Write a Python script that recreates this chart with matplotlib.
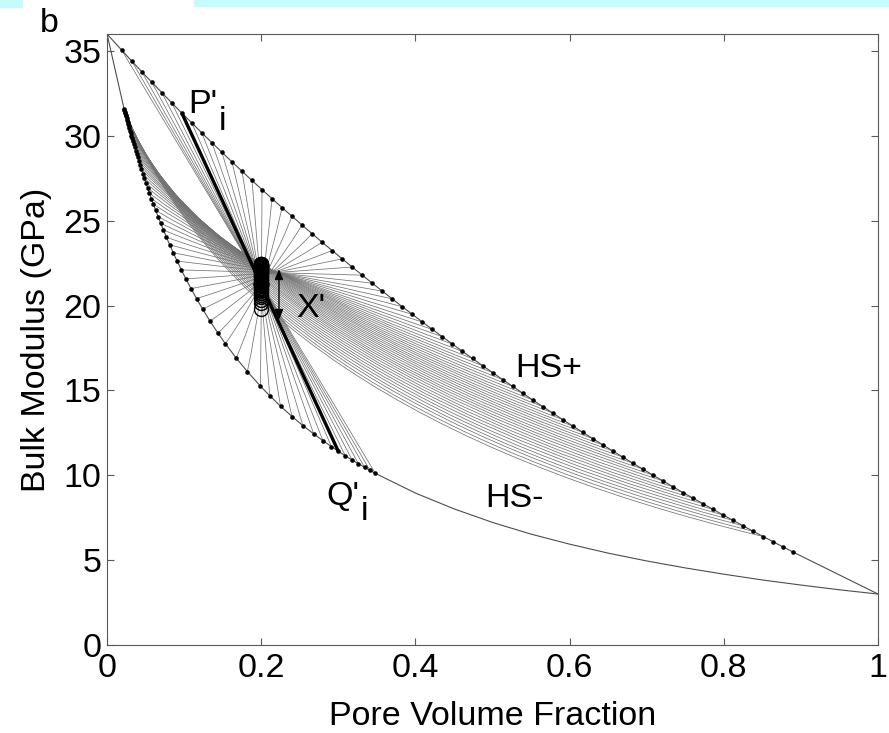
import numpy as np
import matplotlib
matplotlib.use("Agg")
import matplotlib.pyplot as plt
from matplotlib.patches import Rectangle, PathPatch
from matplotlib.path import Path

plt.rcParams["font.family"] = ["Liberation Sans", "DejaVu Sans"]

# --- values -----------------------------------------------------------------------------
# HS+ bound, with the marked points P' on it
up_x = [0.019, 0.032, 0.045, 0.058, 0.071, 0.084, 0.097, 0.110, 0.123, 0.136, 0.149, 0.162,
        0.175, 0.188, 0.201, 0.214, 0.227, 0.240, 0.253, 0.266, 0.279, 0.292, 0.305, 0.318,
        0.331, 0.344, 0.357, 0.370, 0.383, 0.396, 0.409, 0.422, 0.435, 0.448, 0.461, 0.474,
        0.487, 0.500, 0.513, 0.526, 0.539, 0.552, 0.565, 0.578, 0.591, 0.604, 0.617, 0.630,
        0.643, 0.656, 0.669, 0.682, 0.695, 0.708, 0.721, 0.734, 0.747, 0.760, 0.773, 0.786,
        0.799, 0.812, 0.825, 0.838, 0.851, 0.864, 0.877, 0.890]
up_y = [35.05, 34.41, 33.78, 33.16, 32.55, 31.94, 31.34, 30.76, 30.17, 29.60, 29.03, 28.47,
        27.92, 27.37, 26.83, 26.30, 25.77, 25.26, 24.74, 24.23, 23.73, 23.24, 22.75, 22.27,
        21.79, 21.32, 20.85, 20.39, 19.93, 19.48, 19.03, 18.59, 18.16, 17.73, 17.30, 16.88,
        16.46, 16.05, 15.64, 15.24, 14.84, 14.44, 14.05, 13.67, 13.28, 12.90, 12.53, 12.16,
        11.79, 11.43, 11.07, 10.71, 10.36, 10.01, 9.67, 9.32, 8.98, 8.65, 8.32, 7.99,
        7.66, 7.34, 7.02, 6.70, 6.39, 6.08, 5.77, 5.47]

# HS- bound points Q' (i-th one is linked to the i-th P'), then the plain tail of HS-
lo_x = [0.348, 0.341, 0.334, 0.326, 0.318, 0.309, 0.300, 0.291, 0.280, 0.268, 0.254, 0.240,
        0.225, 0.211, 0.199, 0.182, 0.1675, 0.1535, 0.144, 0.1336, 0.124, 0.1161, 0.1089,
        0.1023, 0.0964, 0.0909, 0.0859, 0.0813, 0.0771, 0.0732, 0.0696, 0.0662, 0.0631,
        0.0602, 0.0575, 0.0550, 0.0526, 0.0504, 0.0484, 0.0465, 0.0446, 0.0430, 0.0414,
        0.0398, 0.0384, 0.0371, 0.0359, 0.0347, 0.0336, 0.0325, 0.0315, 0.0306, 0.0297,
        0.0288, 0.0280, 0.0273, 0.0266, 0.0259, 0.0253, 0.0247, 0.0241, 0.0235, 0.0230,
        0.0225, 0.0221]
lo_y = [10.11, 10.29, 10.47, 10.68, 10.89, 11.15, 11.41, 11.69, 12.04, 12.44, 12.93, 13.46,
        14.07, 14.69, 15.25, 16.11, 16.91, 17.75, 18.37, 19.08, 19.79, 20.41, 21.00, 21.57,
        22.10, 22.62, 23.11, 23.58, 24.02, 24.45, 24.85, 25.24, 25.61, 25.97, 26.30, 26.62,
        26.94, 27.23, 27.50, 27.76, 28.03, 28.26, 28.49, 28.73, 28.94, 29.13, 29.32, 29.50,
        29.67, 29.85, 30.01, 30.15, 30.30, 30.45, 30.58, 30.70, 30.82, 30.93, 31.04, 31.14,
        31.24, 31.35, 31.43, 31.52, 31.59]
tail_x = [0.348, 0.4, 0.45, 0.5, 0.55, 0.6, 0.65, 0.7, 0.75, 0.8, 0.85, 0.9, 0.95, 1.0]
tail_y = [10.11, 8.95, 8.02, 7.22, 6.53, 5.94, 5.41, 4.95, 4.54, 4.17, 3.83, 3.53, 3.25, 3.0]

# modulus X' where each P'-Q' link crosses porosity 0.2
x_phi = 0.2
x_y = [21.33, 21.30, 21.28, 21.25, 21.24, 21.22, 21.23, 21.28, 21.28, 21.28, 21.21, 21.16,
       20.99, 20.75, 19.80, 20.88, 21.03, 21.27, 21.27, 21.42, 21.58, 21.69, 21.79, 21.88,
       21.96, 22.04, 22.11, 22.18, 22.23, 22.28, 22.32, 22.36, 22.39, 22.41, 22.42, 22.43,
       22.44, 22.43, 22.42, 22.40, 22.38, 22.35, 22.31, 22.28, 22.23, 22.18, 22.12, 22.06,
       21.99, 21.92, 21.84, 21.75, 21.67, 21.58, 21.48, 21.37, 21.26, 21.14, 21.02, 20.89,
       20.76, 20.62, 20.48, 20.32, 20.17]
end_pts = [(0.0, 36.0), (1.0, 3.0)]
bold_link = 6

fig = plt.figure(figsize=(8.89, 7.33), dpi=100)
ax = fig.add_axes([0.1204, 0.1201, 0.8673, 0.8335])


def link(p, q, ym, **kw):
    """Smooth P'-Q' link through (x_phi, ym), drawn as a quadratic Bezier."""
    p, q = np.asarray(p, float), np.asarray(q, float)
    a, b = (p, q) if p[1] > q[1] else (q, p)
    m = np.array([x_phi, ym])
    fr = (x_phi - a[0]) / (b[0] - a[0])
    t = (fr + 0.5) / 2
    c = (m - (1 - t) ** 2 * a - t ** 2 * b) / (2 * t * (1 - t))
    path = Path([a, c, b], [Path.MOVETO, Path.CURVE3, Path.CURVE3])
    ax.add_patch(PathPatch(path, fill=False, **kw))


for i in range(len(lo_x)):
    link((up_x[i], up_y[i]), (lo_x[i], lo_y[i]), x_y[i], ec="0.45", lw=0.55, zorder=1)
link((up_x[bold_link], up_y[bold_link]), (lo_x[bold_link], lo_y[bold_link]),
     x_y[bold_link], ec="k", lw=2.4, zorder=3)

(x0, y0), (x1, y1) = end_pts
order = np.argsort(lo_x)
ax.plot([x0] + up_x + [x1], [y0] + up_y + [y1], color="0.3", lw=0.8, zorder=2)
ax.plot(np.r_[x0, np.array(lo_x)[order], tail_x], np.r_[y0, np.array(lo_y)[order], tail_y],
        color="0.3", lw=0.8, zorder=2)
ax.plot(up_x, up_y, "o", color="k", ms=3.3, mew=0, zorder=4)
ax.plot(lo_x, lo_y, "o", color="k", ms=3.3, mew=0, zorder=4)
ax.plot([x_phi] * len(x_y), x_y, "o", mfc="none", mec="k", ms=10, mew=1.0, zorder=5)

ax.set_xlim(0, 1)
ax.set_ylim(0, 36)
ax.set_xticks([0, 0.2, 0.4, 0.6, 0.8, 1])
ax.set_xticklabels(["0", "0.2", "0.4", "0.6", "0.8", "1"])
ax.set_yticks(range(0, 36, 5))
for sp in ax.spines.values():
    sp.set_color("0.35")
fs = 24.5
ax.tick_params(direction="in", labelsize=fs, length=5, width=0.8, color="0.35",
               top=True, right=True, pad=6)
ax.tick_params(axis="y", pad=4)
ax.set_xlabel("Pore Volume Fraction", fontsize=fs, labelpad=12)
ax.set_ylabel("Bulk Modulus (GPa)", fontsize=fs, labelpad=8)

ax.text(0.105, 31.35, "P'", fontsize=fs)
ax.text(0.1445, 30.35, "i", fontsize=fs)
ax.text(0.285, 8.25, "Q'", fontsize=fs)
ax.text(0.329, 7.37, "i", fontsize=fs)
ax.text(0.246, 19.33, "X'", fontsize=fs)
ax.text(0.529, 15.79, "HS+", fontsize=fs)
ax.text(0.490, 8.15, "HS-", fontsize=fs)
ax.annotate("", xy=(0.223, 22.3), xytext=(0.223, 19.0),
            arrowprops=dict(arrowstyle="<|-|>,head_length=0.6,head_width=0.25",
                            color="k", lw=1.0))
fig.text(0.045, 0.956, "b", fontsize=fs)

# light cyan strips along the top edge of the original image
fig.patches.append(Rectangle((0, 0.990), 0.025, 0.010, transform=fig.transFigure,
                             color="#c6fbfc"))
fig.patches.append(Rectangle((0.218, 0.9915), 0.782, 0.0085, transform=fig.transFigure,
                             color="#c6fbfc"))
fig.savefig("out.png", dpi=100)
